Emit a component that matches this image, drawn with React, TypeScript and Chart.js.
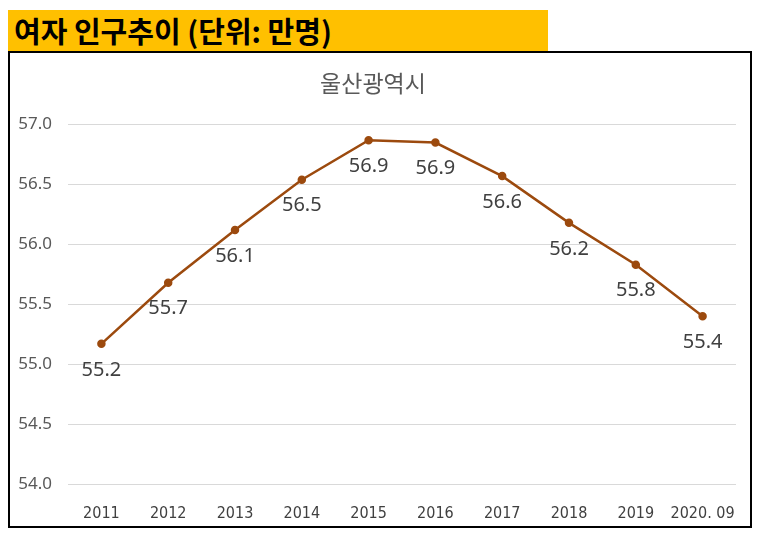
import { useEffect, useRef } from "react"
import { Chart, registerables } from "chart.js"

Chart.register(...registerables)

const categories = ["2011", "2012", "2013", "2014", "2015", "2016", "2017", "2018", "2019", "2020. 09"]
const population = [55.17, 55.68, 56.12, 56.54, 56.87, 56.85, 56.57, 56.18, 55.83, 55.4]
const pointLabels = ["55.2", "55.7", "56.1", "56.5", "56.9", "56.9", "56.6", "56.2", "55.8", "55.4"]
const yTicks = [54.0, 54.5, 55.0, 55.5, 56.0, 56.5, 57.0]

const lineColor = "#9C4A0E"

// draws the value under each point
const labelPlugin = {
  id: "pointLabels",
  afterDatasetsDraw(chart: Chart) {
    const ctx = chart.ctx
    const meta = chart.getDatasetMeta(0)
    ctx.save()
    ctx.fillStyle = "#404040"
    ctx.font = "20px 'Noto Sans'"
    ctx.textAlign = "center"
    ctx.textBaseline = "middle"
    meta.data.forEach((pt, i) => {
      const { x, y } = pt.getCenterPoint()
      ctx.fillText(pointLabels[i], x, y + 26)
    })
    ctx.restore()
  },
}

export default function App() {
  const chartRef = useRef<HTMLCanvasElement>(null)
  const chartInstance = useRef<Chart | null>(null)

  useEffect(() => {
    if (!chartRef.current) return
    const ctx = chartRef.current.getContext("2d")
    if (!ctx) return

    if (chartInstance.current) {
      chartInstance.current.destroy()
    }

    chartInstance.current = new Chart(ctx, {
      type: "line",
      data: {
        labels: categories,
        datasets: [
          {
            label: "울산광역시",
            data: population,
            borderColor: lineColor,
            backgroundColor: lineColor,
            pointBackgroundColor: lineColor,
            pointBorderColor: lineColor,
            pointRadius: 3,
            borderWidth: 2.5,
            tension: 0,
          },
        ],
      },
      options: {
        animation: false,
        responsive: true,
        maintainAspectRatio: false,
        layout: { padding: { left: 0, right: 14, top: 0, bottom: 0 } },
        plugins: {
          legend: { display: false },
          tooltip: { enabled: false },
          title: {
            display: true,
            text: "울산광역시",
            color: "#595959",
            font: { family: "'Noto Sans CJK KR'", size: 23, weight: "normal" },
            padding: { top: 16, bottom: 28 },
          },
        },
        scales: {
          x: {
            offset: true,
            grid: { display: false },
            border: { display: false },
            ticks: {
              color: "#404040",
              font: { family: "'Liberation Sans Narrow', 'DejaVu Sans Condensed', sans-serif", size: 16 },
              padding: 12,
              maxRotation: 0,
              autoSkip: false,
            },
            afterFit: (scale: any) => {
              scale.height = 42
            },
          },
          y: {
            min: 54,
            max: 57,
            afterBuildTicks: (scale: any) => {
              scale.ticks = yTicks.map((v) => ({ value: v }))
            },
            grid: { color: "#D9D9D9", lineWidth: 1, drawTicks: false },
            border: { display: false },
            ticks: {
              color: "#595959",
              font: { family: "'Noto Sans'", size: 17 },
              padding: 16,
              callback: (value) => Number(value).toFixed(1),
            },
            afterFit: (scale: any) => {
              scale.width = 58
            },
          },
        },
      },
      plugins: [labelPlugin],
    })

    return () => {
      if (chartInstance.current) {
        chartInstance.current.destroy()
        chartInstance.current = null
      }
    }
  }, [])

  return (
    <div style={{ position: "relative", width: 748, height: 524 }}>
      <div
        style={{
          position: "absolute",
          left: 0,
          top: 2,
          width: 540,
          height: 41,
          background: "#FFC000",
          boxSizing: "border-box",
          paddingLeft: 6,
          fontFamily: "'Noto Sans CJK KR'",
          fontWeight: "bold",
          fontSize: 29,
          lineHeight: "41px",
          color: "#000",
        }}
      >
        여자 인구추이 (단위: 만명)
      </div>
      <div
        style={{
          position: "absolute",
          left: 0,
          top: 43,
          width: 744,
          height: 477,
          border: "2px solid #000",
          boxSizing: "border-box",
          background: "#fff",
        }}
      >
        <div style={{ width: 740, height: 473 }}>
          <canvas ref={chartRef}></canvas>
        </div>
      </div>
    </div>
  )
}
